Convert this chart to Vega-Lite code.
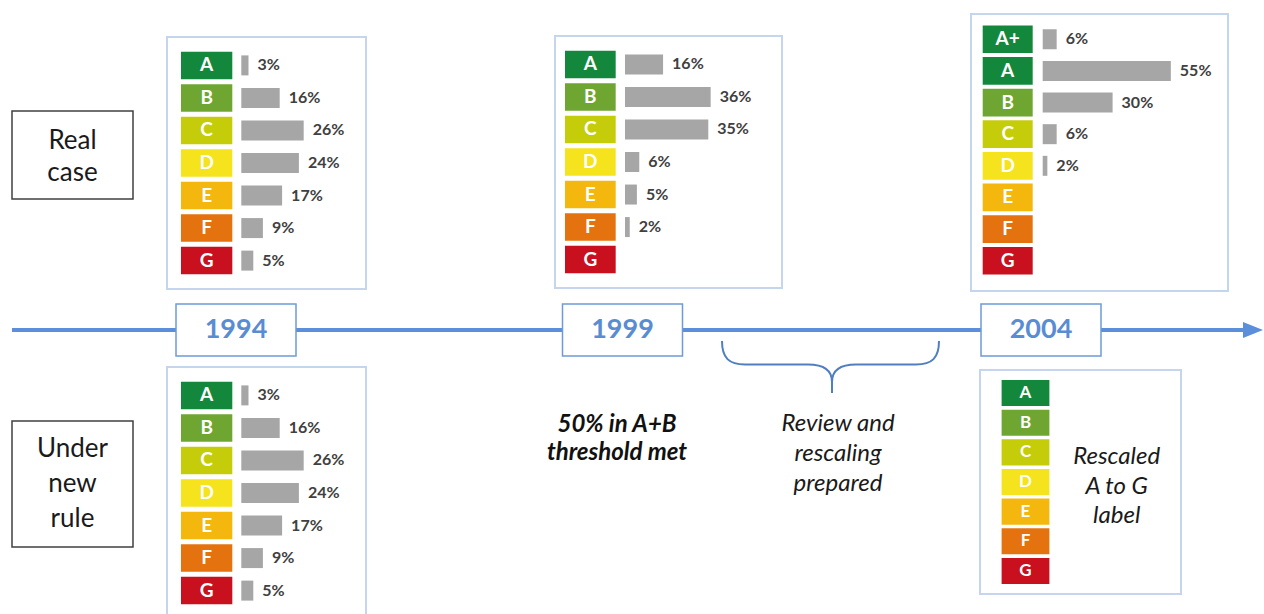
{
  "$schema": "https://vega.github.io/schema/vega-lite/v6.json",
  "width": 1264,
  "height": 614,
  "padding": 0,
  "autosize": {"type": "none"},
  "background": "white",
  "config": {"view": {"stroke": null}, "font": "Lato", "axis": {"disable": true}, "legend": {"disable": true}},
  "datasets": {
    "shares": [
      {"scenario": "Real case", "year": 1994, "label": "A", "share": 0.03},
      {"scenario": "Real case", "year": 1994, "label": "B", "share": 0.16},
      {"scenario": "Real case", "year": 1994, "label": "C", "share": 0.26},
      {"scenario": "Real case", "year": 1994, "label": "D", "share": 0.24},
      {"scenario": "Real case", "year": 1994, "label": "E", "share": 0.17},
      {"scenario": "Real case", "year": 1994, "label": "F", "share": 0.09},
      {"scenario": "Real case", "year": 1994, "label": "G", "share": 0.05},
      {"scenario": "Real case", "year": 1999, "label": "A", "share": 0.16},
      {"scenario": "Real case", "year": 1999, "label": "B", "share": 0.36},
      {"scenario": "Real case", "year": 1999, "label": "C", "share": 0.35},
      {"scenario": "Real case", "year": 1999, "label": "D", "share": 0.06},
      {"scenario": "Real case", "year": 1999, "label": "E", "share": 0.05},
      {"scenario": "Real case", "year": 1999, "label": "F", "share": 0.02},
      {"scenario": "Real case", "year": 1999, "label": "G", "share": null},
      {"scenario": "Real case", "year": 2004, "label": "A+", "share": 0.06},
      {"scenario": "Real case", "year": 2004, "label": "A", "share": 0.55},
      {"scenario": "Real case", "year": 2004, "label": "B", "share": 0.30},
      {"scenario": "Real case", "year": 2004, "label": "C", "share": 0.06},
      {"scenario": "Real case", "year": 2004, "label": "D", "share": 0.02},
      {"scenario": "Real case", "year": 2004, "label": "E", "share": null},
      {"scenario": "Real case", "year": 2004, "label": "F", "share": null},
      {"scenario": "Real case", "year": 2004, "label": "G", "share": null},
      {"scenario": "Under new rule", "year": 1994, "label": "A", "share": 0.03},
      {"scenario": "Under new rule", "year": 1994, "label": "B", "share": 0.16},
      {"scenario": "Under new rule", "year": 1994, "label": "C", "share": 0.26},
      {"scenario": "Under new rule", "year": 1994, "label": "D", "share": 0.24},
      {"scenario": "Under new rule", "year": 1994, "label": "E", "share": 0.17},
      {"scenario": "Under new rule", "year": 1994, "label": "F", "share": 0.09},
      {"scenario": "Under new rule", "year": 1994, "label": "G", "share": 0.05},
      {"scenario": "Under new rule", "year": 2004, "label": "A", "share": null},
      {"scenario": "Under new rule", "year": 2004, "label": "B", "share": null},
      {"scenario": "Under new rule", "year": 2004, "label": "C", "share": null},
      {"scenario": "Under new rule", "year": 2004, "label": "D", "share": null},
      {"scenario": "Under new rule", "year": 2004, "label": "E", "share": null},
      {"scenario": "Under new rule", "year": 2004, "label": "F", "share": null},
      {"scenario": "Under new rule", "year": 2004, "label": "G", "share": null}
    ]
  },
  "layer": [
    {
      "data": {"values": [{"scenario": "Real case"}]},
      "layer": [
        {"mark": {"type": "rect", "fill": "white", "stroke": "#404040", "strokeWidth": 1.5},
         "encoding": {
           "x": {"datum": 0, "type": "quantitative", "scale": {"domain": [0, 1], "range": [12, 133], "nice": false, "zero": false}},
           "x2": {"datum": 1},
           "y": {"datum": 0, "type": "quantitative", "scale": {"domain": [0, 1], "range": [111, 199], "nice": false, "zero": false}},
           "y2": {"datum": 1}}},
        {"mark": {"type": "text", "fontSize": 26, "lineHeight": 32.5, "lineBreak": " ", "baseline": "alphabetic", "align": "center", "dy": -6.3, "color": "#1a1a1a"},
         "encoding": {"x": {"datum": 0.5, "type": "quantitative"}, "y": {"datum": 0.5, "type": "quantitative"}, "text": {"field": "scenario"}}}
      ]
    },
    {
      "data": {"values": [{"scenario": "Under new rule"}]},
      "layer": [
        {"mark": {"type": "rect", "fill": "white", "stroke": "#404040", "strokeWidth": 1.5},
         "encoding": {
           "x": {"datum": 0, "type": "quantitative", "scale": {"domain": [0, 1], "range": [12, 133], "nice": false, "zero": false}},
           "x2": {"datum": 1},
           "y": {"datum": 0, "type": "quantitative", "scale": {"domain": [0, 1], "range": [421, 547], "nice": false, "zero": false}},
           "y2": {"datum": 1}}},
        {"mark": {"type": "text", "fontSize": 26, "lineHeight": 35, "lineBreak": " ", "baseline": "alphabetic", "align": "center", "dy": -27.3, "color": "#1a1a1a"},
         "encoding": {"x": {"datum": 0.5, "type": "quantitative"}, "y": {"datum": 0.5, "type": "quantitative"}, "text": {"field": "scenario"}}}
      ]
    },
    {
      "layer": [
        {
          "data": {"values": [{}]},
          "mark": {"type": "rect", "fill": "white", "stroke": "#c5d5ee", "strokeWidth": 2},
          "encoding": {
            "x": {"datum": 0, "type": "quantitative", "scale": {"domain": [0, 1], "range": [167, 366], "nice": false, "zero": false}},
            "x2": {"datum": 1},
            "y": {"datum": 0, "type": "quantitative", "scale": {"domain": [0, 1], "range": [37, 289], "nice": false, "zero": false}},
            "y2": {"datum": 1}
          }
        },
        {
          "data": {"name": "shares"},
          "transform": [{"filter": "datum.scenario === 'Real case' && datum.year === 1994"}],
          "layer": [
            {"mark": {"type": "rect"},
             "encoding": {
               "y": {"field": "label", "type": "nominal", "scale": {"domain": ["A", "B", "C", "D", "E", "F", "G"], "range": [37, 289], "paddingInner": 0.155, "paddingOuter": 0.45}},
               "x": {"datum": -0.2513, "type": "quantitative", "scale": {"domain": [-0.3096, 0.5196], "range": [167, 366], "nice": false, "zero": false}},
               "x2": {"datum": -0.0375},
               "color": {"field": "label", "type": "nominal", "scale": {"domain": ["A+", "A", "B", "C", "D", "E", "F", "G"], "range": ["#13883c", "#13883c", "#6fa632", "#c5cd0b", "#f5e31d", "#f4b70d", "#e4730f", "#c8101f"]}}}},
            {"mark": {"type": "text", "color": "white", "fontWeight": "bold", "fontSize": 19, "baseline": "middle", "align": "center"},
             "encoding": {"y": {"field": "label", "type": "nominal"}, "x": {"datum": -0.1444, "type": "quantitative"}, "text": {"field": "label"}}},
            {"mark": {"type": "bar", "color": "#a6a6a6", "size": 20},
             "encoding": {"y": {"field": "label", "type": "nominal"}, "x": {"field": "share", "type": "quantitative"}}},
            {"mark": {"type": "text", "align": "left", "baseline": "middle", "dx": 9, "fontWeight": "bold", "fontSize": 16, "color": "#404040"},
             "encoding": {"y": {"field": "label", "type": "nominal"}, "x": {"field": "share", "type": "quantitative"}, "text": {"field": "share", "type": "quantitative", "format": ".0%"}}}
          ]
        }
      ],
      "resolve": {"scale": {"x": "independent", "y": "independent"}}
    },
    {
      "layer": [
        {
          "data": {"values": [{}]},
          "mark": {"type": "rect", "fill": "white", "stroke": "#c5d5ee", "strokeWidth": 2},
          "encoding": {
            "x": {"datum": 0, "type": "quantitative", "scale": {"domain": [0, 1], "range": [555, 782], "nice": false, "zero": false}},
            "x2": {"datum": 1},
            "y": {"datum": 0, "type": "quantitative", "scale": {"domain": [0, 1], "range": [36, 288], "nice": false, "zero": false}},
            "y2": {"datum": 1}
          }
        },
        {
          "data": {"name": "shares"},
          "transform": [{"filter": "datum.scenario === 'Real case' && datum.year === 1999"}],
          "layer": [
            {"mark": {"type": "rect"},
             "encoding": {
               "y": {"field": "label", "type": "nominal", "scale": {"domain": ["A", "B", "C", "D", "E", "F", "G"], "range": [36, 288], "paddingInner": 0.155, "paddingOuter": 0.45}},
               "x": {"datum": -0.2521, "type": "quantitative", "scale": {"domain": [-0.2941, 0.6597], "range": [555, 782], "nice": false, "zero": false}},
               "x2": {"datum": -0.0391},
               "color": {"field": "label", "type": "nominal", "scale": {"domain": ["A+", "A", "B", "C", "D", "E", "F", "G"], "range": ["#13883c", "#13883c", "#6fa632", "#c5cd0b", "#f5e31d", "#f4b70d", "#e4730f", "#c8101f"]}}}},
            {"mark": {"type": "text", "color": "white", "fontWeight": "bold", "fontSize": 19, "baseline": "middle", "align": "center"},
             "encoding": {"y": {"field": "label", "type": "nominal"}, "x": {"datum": -0.1456, "type": "quantitative"}, "text": {"field": "label"}}},
            {"mark": {"type": "bar", "color": "#a6a6a6", "size": 20},
             "encoding": {"y": {"field": "label", "type": "nominal"}, "x": {"field": "share", "type": "quantitative"}}},
            {"mark": {"type": "text", "align": "left", "baseline": "middle", "dx": 9, "fontWeight": "bold", "fontSize": 16, "color": "#404040"},
             "encoding": {"y": {"field": "label", "type": "nominal"}, "x": {"field": "share", "type": "quantitative"}, "text": {"field": "share", "type": "quantitative", "format": ".0%"}}}
          ]
        }
      ],
      "resolve": {"scale": {"x": "independent", "y": "independent"}}
    },
    {
      "layer": [
        {
          "data": {"values": [{}]},
          "mark": {"type": "rect", "fill": "white", "stroke": "#c5d5ee", "strokeWidth": 2},
          "encoding": {
            "x": {"datum": 0, "type": "quantitative", "scale": {"domain": [0, 1], "range": [971, 1228], "nice": false, "zero": false}},
            "x2": {"datum": 1},
            "y": {"datum": 0, "type": "quantitative", "scale": {"domain": [0, 1], "range": [14, 291], "nice": false, "zero": false}},
            "y2": {"datum": 1}
          }
        },
        {
          "data": {"name": "shares"},
          "transform": [{"filter": "datum.scenario === 'Real case' && datum.year === 2004"}],
          "layer": [
            {"mark": {"type": "rect"},
             "encoding": {
               "y": {"field": "label", "type": "nominal", "scale": {"domain": ["A+", "A", "B", "C", "D", "E", "F", "G"], "range": [14, 291], "paddingInner": 0.125, "paddingOuter": 0.44, "align": 0.41}},
               "x": {"datum": -0.2575, "type": "quantitative", "scale": {"domain": [-0.3077, 0.7953], "range": [971, 1228], "nice": false, "zero": false}},
               "x2": {"datum": -0.0429},
               "color": {"field": "label", "type": "nominal", "scale": {"domain": ["A+", "A", "B", "C", "D", "E", "F", "G"], "range": ["#13883c", "#13883c", "#6fa632", "#c5cd0b", "#f5e31d", "#f4b70d", "#e4730f", "#c8101f"]}}}},
            {"mark": {"type": "text", "color": "white", "fontWeight": "bold", "fontSize": 19, "baseline": "middle", "align": "center"},
             "encoding": {"y": {"field": "label", "type": "nominal"}, "x": {"datum": -0.1502, "type": "quantitative"}, "text": {"field": "label"}}},
            {"mark": {"type": "bar", "color": "#a6a6a6", "size": 20},
             "encoding": {"y": {"field": "label", "type": "nominal"}, "x": {"field": "share", "type": "quantitative"}}},
            {"mark": {"type": "text", "align": "left", "baseline": "middle", "dx": 9, "fontWeight": "bold", "fontSize": 16, "color": "#404040"},
             "encoding": {"y": {"field": "label", "type": "nominal"}, "x": {"field": "share", "type": "quantitative"}, "text": {"field": "share", "type": "quantitative", "format": ".0%"}}}
          ]
        }
      ],
      "resolve": {"scale": {"x": "independent", "y": "independent"}}
    },
    {
      "layer": [
        {
          "data": {"values": [{}]},
          "mark": {"type": "rect", "fill": "white", "stroke": "#c5d5ee", "strokeWidth": 2},
          "encoding": {
            "x": {"datum": 0, "type": "quantitative", "scale": {"domain": [0, 1], "range": [167, 366], "nice": false, "zero": false}},
            "x2": {"datum": 1},
            "y": {"datum": 0, "type": "quantitative", "scale": {"domain": [0, 1], "range": [367, 619], "nice": false, "zero": false}},
            "y2": {"datum": 1}
          }
        },
        {
          "data": {"name": "shares"},
          "transform": [{"filter": "datum.scenario === 'Under new rule' && datum.year === 1994"}],
          "layer": [
            {"mark": {"type": "rect"},
             "encoding": {
               "y": {"field": "label", "type": "nominal", "scale": {"domain": ["A", "B", "C", "D", "E", "F", "G"], "range": [367, 619], "paddingInner": 0.155, "paddingOuter": 0.45}},
               "x": {"datum": -0.2513, "type": "quantitative", "scale": {"domain": [-0.3096, 0.5196], "range": [167, 366], "nice": false, "zero": false}},
               "x2": {"datum": -0.0375},
               "color": {"field": "label", "type": "nominal", "scale": {"domain": ["A+", "A", "B", "C", "D", "E", "F", "G"], "range": ["#13883c", "#13883c", "#6fa632", "#c5cd0b", "#f5e31d", "#f4b70d", "#e4730f", "#c8101f"]}}}},
            {"mark": {"type": "text", "color": "white", "fontWeight": "bold", "fontSize": 19, "baseline": "middle", "align": "center"},
             "encoding": {"y": {"field": "label", "type": "nominal"}, "x": {"datum": -0.1444, "type": "quantitative"}, "text": {"field": "label"}}},
            {"mark": {"type": "bar", "color": "#a6a6a6", "size": 20},
             "encoding": {"y": {"field": "label", "type": "nominal"}, "x": {"field": "share", "type": "quantitative"}}},
            {"mark": {"type": "text", "align": "left", "baseline": "middle", "dx": 9, "fontWeight": "bold", "fontSize": 16, "color": "#404040"},
             "encoding": {"y": {"field": "label", "type": "nominal"}, "x": {"field": "share", "type": "quantitative"}, "text": {"field": "share", "type": "quantitative", "format": ".0%"}}}
          ]
        }
      ],
      "resolve": {"scale": {"x": "independent", "y": "independent"}}
    },
    {
      "layer": [
        {
          "layer": [
            {
              "data": {"values": [{}]},
              "mark": {"type": "rect", "fill": "white", "stroke": "#c5d5ee", "strokeWidth": 2},
              "encoding": {
                "x": {"datum": 0, "type": "quantitative", "scale": {"domain": [0, 1], "range": [980, 1181], "nice": false, "zero": false}},
                "x2": {"datum": 1},
                "y": {"datum": 0, "type": "quantitative", "scale": {"domain": [0, 1], "range": [370, 594], "nice": false, "zero": false}},
                "y2": {"datum": 1}
              }
            },
            {
              "data": {"values": [{"note": "Rescaled\nA to G\nlabel"}]},
              "mark": {"type": "text", "lineBreak": "\n", "fontSize": 24, "fontStyle": "italic", "lineHeight": 29.6, "baseline": "alphabetic", "align": "center", "dy": -18, "color": "#1a1a1a"},
              "encoding": {"x": {"datum": 0.68, "type": "quantitative"}, "y": {"datum": 0.5, "type": "quantitative"}, "text": {"field": "note"}}
            }
          ]
        },
        {
          "data": {"name": "shares"},
          "transform": [{"filter": "datum.scenario === 'Under new rule' && datum.year === 2004"}],
          "layer": [
            {"mark": {"type": "rect"},
             "encoding": {
               "y": {"field": "label", "type": "nominal", "scale": {"domain": ["A", "B", "C", "D", "E", "F", "G"], "range": [370, 594], "paddingInner": 0.12, "paddingOuter": 0.338}},
               "x": {"datum": -0.239, "type": "quantitative", "scale": {"domain": [-0.329, 0.508], "range": [980, 1181], "nice": false, "zero": false}},
               "x2": {"datum": -0.04},
               "color": {"field": "label", "type": "nominal", "scale": {"domain": ["A+", "A", "B", "C", "D", "E", "F", "G"], "range": ["#13883c", "#13883c", "#6fa632", "#c5cd0b", "#f5e31d", "#f4b70d", "#e4730f", "#c8101f"]}}}},
            {"mark": {"type": "text", "color": "white", "fontWeight": "bold", "fontSize": 17, "baseline": "middle", "align": "center"},
             "encoding": {"y": {"field": "label", "type": "nominal"}, "x": {"datum": -0.1395, "type": "quantitative"}, "text": {"field": "label"}}}
          ]
        }
      ],
      "resolve": {"scale": {"x": "independent", "y": "independent"}}
    },
    {
      "layer": [
        {"data": {"values": [{}]}, "mark": {"type": "rule", "color": "#5b8fd9", "strokeWidth": 4},
         "encoding": {
           "x": {"datum": 1991.102, "type": "quantitative", "scale": {"domain": [1994, 1999, 2004], "range": [236, 622.5, 1041], "nice": false, "zero": false}},
           "x2": {"datum": 2006.413},
           "y": {"datum": 0, "type": "quantitative", "scale": {"domain": [-1, 1], "range": [356, 304], "nice": false, "zero": false}}}},
        {"data": {"values": [{}]}, "mark": {"type": "point", "shape": "M-1,-0.8L1,0L-1,0.8Z", "size": 400, "filled": true, "color": "#5b8fd9", "opacity": 1},
         "encoding": {"x": {"datum": 2006.533, "type": "quantitative"}, "y": {"datum": 0, "type": "quantitative"}}},
        {"data": {"values": [{}]}, "mark": {"type": "point", "shape": "M-110,11C-110,28,-103,34.5,-87,34.5L-24,34.5C-8,34.5,0,40,0,52L0,63M107,11C107,28,100,34.5,84,34.5L24,34.5C8,34.5,0,40,0,52", "size": 4, "filled": false, "color": "#4f7fc1", "strokeWidth": 2, "opacity": 1},
         "encoding": {"x": {"datum": 2001.503, "type": "quantitative"}, "y": {"datum": 0, "type": "quantitative"}}},
        {"data": {"values": [{"year": 1994}, {"year": 1999}, {"year": 2004}]},
         "mark": {"type": "point", "shape": "M-1,-0.4333L1,-0.4333L1,0.4333L-1,0.4333Z", "size": 14400, "filled": true, "fill": "white", "stroke": "#6e9bd8", "strokeWidth": 1.5, "opacity": 1},
         "encoding": {"x": {"field": "year", "type": "quantitative"}, "y": {"datum": 0, "type": "quantitative"}}},
        {"data": {"values": [{"year": 1994}, {"year": 1999}, {"year": 2004}]},
         "mark": {"type": "text", "fontSize": 27, "fontWeight": "bold", "color": "#5a8cd3", "baseline": "middle", "align": "center"},
         "encoding": {"x": {"field": "year", "type": "quantitative"}, "y": {"datum": 0, "type": "quantitative"}, "text": {"field": "year", "type": "nominal"}}},
        {"data": {"values": [{"note": "50% in A+B\nthreshold met"}]},
         "mark": {"type": "text", "lineBreak": "\n", "fontSize": 24, "fontWeight": "bold", "fontStyle": "italic", "lineHeight": 28.5, "baseline": "alphabetic", "align": "center", "dx": -5.5, "dy": 101.7, "color": "#111111"},
         "encoding": {"x": {"datum": 1999, "type": "quantitative"}, "y": {"datum": 0, "type": "quantitative"}, "text": {"field": "note"}}},
        {"data": {"values": [{"note": "Review and\nrescaling\nprepared"}]},
         "mark": {"type": "text", "lineBreak": "\n", "fontSize": 24, "fontStyle": "italic", "lineHeight": 30, "baseline": "alphabetic", "align": "center", "dx": 6, "dy": 101, "color": "#1a1a1a"},
         "encoding": {"x": {"datum": 2001.503, "type": "quantitative"}, "y": {"datum": 0, "type": "quantitative"}, "text": {"field": "note"}}}
      ]
    }
  ],
  "resolve": {"scale": {"x": "independent", "y": "independent"}}
}
